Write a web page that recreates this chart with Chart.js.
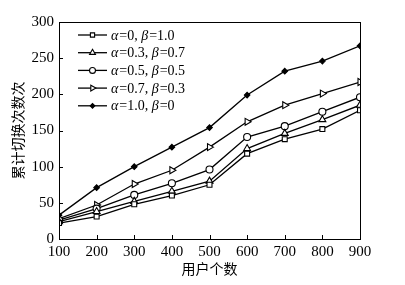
<!DOCTYPE html>
<html>
<head>
<meta charset="utf-8">
<script src="https://cdn.jsdelivr.net/npm/chart.js@4"></script>
<style>
  html, body { margin: 0; padding: 0; background: #fff; }
  #wrap { width: 405px; height: 285px; }
</style>
</head>
<body>
<div id="wrap"><canvas id="chart" width="405" height="285"></canvas></div>
<script>
const users = [100, 200, 300, 400, 500, 600, 700, 800, 900];
const yTicks = [0, 50, 100, 150, 200, 250, 300];
const labels = ['α=0, β=1.0', 'α=0.3, β=0.7', 'α=0.5, β=0.5', 'α=0.7, β=0.3', 'α=1.0, β=0'];
const a00 = [22, 31, 48, 60, 75, 118, 138, 152, 178];
const a03 = [24, 38, 52, 66, 80, 125, 146, 165, 185];
const a05 = [26, 42, 61, 77, 96, 141, 156, 176, 196];
const a07 = [28, 47, 76, 95, 127, 162, 185, 201, 217];
const a10 = [33, 71, 100, 127, 154, 199, 232, 246, 267];

const serif = '"Liberation Serif", "DejaVu Serif", serif';
const cjk = '"Noto Sans CJK SC", sans-serif';

function pts(vals) {
  return vals.map((v, i) => ({ x: users[i], y: v }));
}

const styles = [
  { pointStyle: 'rect', radius: 3.5, rotation: 0, fill: '#fff' },
  { pointStyle: 'triangle', radius: 4, rotation: 0, fill: '#fff' },
  { pointStyle: 'circle', radius: 3.5, rotation: 0, fill: '#fff' },
  { pointStyle: 'triangle', radius: 4, rotation: 90, fill: '#fff' },
  { pointStyle: 'rectRot', radius: 2.8, rotation: 0, fill: '#000' }
];

const datasets = [a00, a03, a05, a07, a10].map((vals, i) => ({
  label: labels[i],
  data: pts(vals),
  borderColor: '#000',
  borderWidth: 1.3,
  pointStyle: styles[i].pointStyle,
  pointRadius: styles[i].radius,
  pointRotation: styles[i].rotation,
  pointBackgroundColor: styles[i].fill,
  pointBorderColor: '#000',
  pointBorderWidth: 1.1,
  tension: 0
}));

// Greek letters italic, the rest upright
function drawLabel(ctx, text, x, y) {
  text.split(/([αβ])/).filter(s => s).forEach(part => {
    const greek = part === 'α' || part === 'β';
    ctx.font = (greek ? 'italic ' : '') + '14px ' + serif;
    ctx.fillText(part, x, y);
    x += ctx.measureText(part).width + (greek ? 1 : 0);
  });
}

// frame, inward ticks and legend
const framePlugin = {
  id: 'frame',
  afterDraw(chart) {
    const { ctx, chartArea: a, scales } = chart;
    ctx.save();
    ctx.strokeStyle = '#000';
    ctx.lineWidth = 1;
    ctx.strokeRect(a.left + 0.5, a.top + 0.5, a.right - a.left, a.bottom - a.top);
    ctx.beginPath();
    users.forEach(u => {
      const x = Math.round(scales.x.getPixelForValue(u)) + 0.5;
      ctx.moveTo(x, a.bottom);
      ctx.lineTo(x, a.bottom - 4);
    });
    yTicks.forEach(t => {
      const y = Math.round(scales.y.getPixelForValue(t)) + 0.5;
      ctx.moveTo(a.left, y);
      ctx.lineTo(a.left + 4, y);
    });
    ctx.stroke();

    // legend
    ctx.textBaseline = 'middle';
    chart.data.datasets.forEach((ds, i) => {
      const y = 35 + i * 17.7;
      ctx.beginPath();
      ctx.lineWidth = 1.3;
      ctx.moveTo(78, y);
      ctx.lineTo(107, y);
      ctx.stroke();
      ctx.fillStyle = ds.pointBackgroundColor;
      ctx.lineWidth = 1.1;
      Chart.helpers.drawPoint(ctx, {
        pointStyle: ds.pointStyle,
        radius: ds.pointRadius * 0.85,
        rotation: ds.pointRotation,
        borderWidth: 1.1
      }, 92.5, y);
      ctx.fillStyle = '#000';
      drawLabel(ctx, ds.label, 111, y + 1);
    });
    ctx.restore();
  }
};

new Chart(document.getElementById('chart'), {
  type: 'line',
  data: { datasets },
  options: {
    responsive: false,
    animation: false,
    layout: { padding: { left: 0, top: 22, right: 45, bottom: 0 } },
    plugins: { legend: { display: false }, tooltip: { enabled: false } },
    scales: {
      x: {
        type: 'linear',
        min: 100,
        max: 900,
        afterFit: s => { s.height = 46; },
        afterBuildTicks: s => { s.ticks = users.map(v => ({ value: v })); },
        grid: { display: false, drawTicks: false },
        border: { color: '#000' },
        ticks: { color: '#000', padding: 4, maxRotation: 0, font: { family: serif, size: 15 } },
        title: { display: true, text: '用户个数', color: '#000', padding: { top: 0, bottom: 8 }, font: { family: cjk, size: 14 } }
      },
      y: {
        min: 0,
        max: 300,
        afterFit: s => { s.width = 59; },
        afterBuildTicks: s => { s.ticks = yTicks.map(v => ({ value: v })); },
        grid: { display: false, drawTicks: false },
        border: { color: '#000' },
        ticks: { color: '#000', padding: 5, font: { family: serif, size: 15 } },
        title: { display: true, text: '累计切换次数次', color: '#000', padding: { top: 9, bottom: 0 }, font: { family: cjk, size: 14 } }
      }
    }
  },
  plugins: [framePlugin, {
    id: 'bg',
    beforeDraw(chart) {
      const c = chart.ctx;
      c.save();
      c.fillStyle = '#fff';
      c.fillRect(0, 0, chart.width, chart.height);
      c.restore();
    }
  }]
});
</script>
</body>
</html>
